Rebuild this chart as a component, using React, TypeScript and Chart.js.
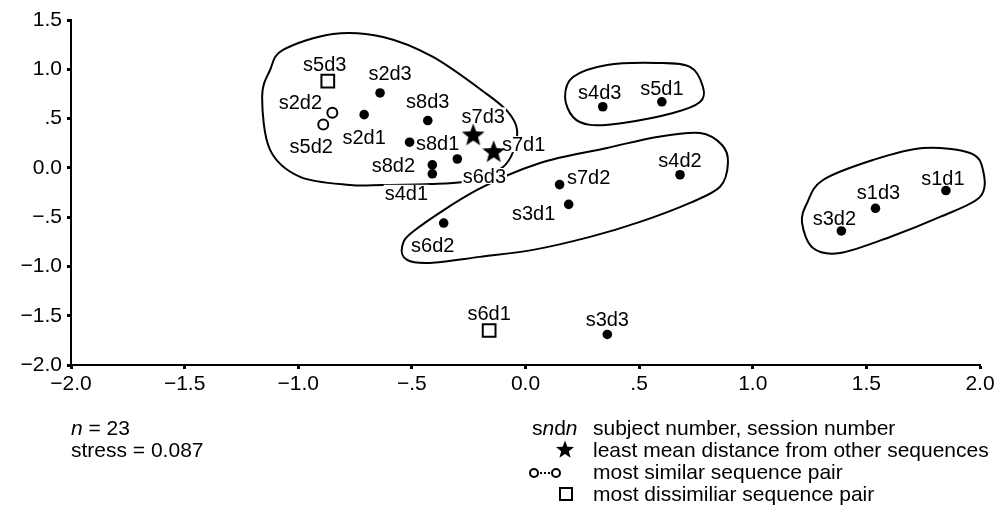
import React, { useEffect, useRef } from 'react';
import { Chart, registerables } from 'chart.js';

Chart.register(...registerables);

// ---------- data ----------
const pointNames = ['s5d3', 's2d3', 's2d2', 's5d2', 's2d1', 's8d3', 's8d1', 's7d3', 's7d1', 's6d3', 's8d2', 's4d1', 's6d2', 's7d2', 's3d1', 's4d2', 's4d3', 's5d1', 's3d2', 's1d3', 's1d1', 's6d1', 's3d3'];
const xValues = [-0.87, -0.64, -0.85, -0.89, -0.71, -0.43, -0.51, -0.23, -0.14, -0.30, -0.41, -0.41, -0.36, 0.15, 0.19, 0.68, 0.34, 0.60, 1.39, 1.54, 1.85, -0.16, 0.36];
const yValues = [0.88, 0.76, 0.56, 0.44, 0.54, 0.48, 0.26, 0.34, 0.17, 0.09, 0.03, -0.06, -0.56, -0.17, -0.37, -0.07, 0.62, 0.67, -0.64, -0.41, -0.23, -1.65, -1.69];
// dot = ordinary, star = least mean distance, open = most similar pair, square = most dissimilar pair
const markerKinds = ['square', 'dot', 'open', 'open', 'dot', 'dot', 'dot', 'star', 'star', 'dot', 'dot', 'dot', 'dot', 'dot', 'dot', 'dot', 'dot', 'dot', 'dot', 'dot', 'dot', 'square', 'dot'];

const xTickValues = [-2, -1.5, -1, -0.5, 0, 0.5, 1, 1.5, 2];
const xTickLabels = ['\u22122.0', '\u22121.5', '\u22121.0', '\u2212.5', '0.0', '.5', '1.0', '1.5', '2.0'];
const yTickValues = [-2, -1.5, -1, -0.5, 0, 0.5, 1, 1.5];
const yTickLabels = ['\u22122.0', '\u22121.5', '\u22121.0', '\u2212.5', '0.0', '.5', '1.0', '1.5'];

// cluster outlines (data coordinates)
const clusterA = [[-1.067, 1.196], [-0.847, 1.359], [-0.627, 1.328], [-0.407, 1.125], [-0.165, 0.74], [-0.077, 0.567], [-0.037, 0.385], [-0.055, 0.161], [-0.099, 0.009], [-0.178, -0.072], [-0.275, -0.143], [-0.42, -0.164], [-0.627, -0.174], [-0.772, -0.174], [-0.992, -0.092], [-1.124, 0.182], [-1.159, 0.719], [-1.124, 0.993]];
const clusterB = [[0.064, 0.05], [0.359, 0.202], [0.579, 0.314], [0.768, 0.354], [0.865, 0.232], [0.891, 0.05], [0.856, -0.192], [0.724, -0.355], [0.504, -0.548], [0.284, -0.7], [0.033, -0.832], [-0.2, -0.903], [-0.42, -0.964], [-0.521, -0.934], [-0.543, -0.802], [-0.486, -0.63], [-0.213, -0.224]];
const clusterC = [[0.209, 0.922], [0.359, 1.044], [0.579, 1.064], [0.724, 1.024], [0.781, 0.821], [0.768, 0.669], [0.649, 0.557], [0.429, 0.456], [0.284, 0.436], [0.209, 0.516], [0.174, 0.719]];
const clusterD = [[1.309, -0.123], [1.529, 0.08], [1.749, 0.202], [1.956, 0.151], [2.013, -0.022], [2.0, -0.295], [1.824, -0.498], [1.604, -0.701], [1.384, -0.864], [1.265, -0.813], [1.217, -0.559], [1.239, -0.356]];
const clusters = [clusterA, clusterB, clusterC, clusterD];

const noteLines = ['n = 23', 'stress = 0.087'];
const keyLines = ['subject number, session number', 'least mean distance from other sequences', 'most similar sequence pair', 'most dissimiliar sequence pair'];

// ---------- styling (label placement relative to marker, px) ----------
const labelDx = [-3, 10, -32, -12, 0, 0, 28, 10, 30, 27, -39, -26, -11, 29, -35, 0, -3, 0, -7, 3, -3, 0, 0];
const labelDy = [-17, -20, -11, 21, 22, -20, 1, -19, -7, 17, 0, 19, 22, -8, 8, -15, -15, -14, -13, -16, -13, -18, -16];

const FONT = '"Liberation Sans", Arial, Helvetica, sans-serif';

function drawStar(ctx: CanvasRenderingContext2D, cx: number, cy: number, R: number) {
  const r = R * 0.42;
  ctx.beginPath();
  for (let i = 0; i < 10; i++) {
    const ang = -Math.PI / 2 + (i * Math.PI) / 5;
    const rad = i % 2 === 0 ? R : r;
    const x = cx + rad * Math.cos(ang);
    const y = cy + rad * Math.sin(ang);
    if (i === 0) ctx.moveTo(x, y);
    else ctx.lineTo(x, y);
  }
  ctx.closePath();
  ctx.fillStyle = '#000';
  ctx.fill();
}

function makeStarImage(R: number) {
  const c = document.createElement('canvas');
  const s = Math.ceil(R * 2 + 2);
  c.width = s;
  c.height = s;
  const ctx = c.getContext('2d')!;
  drawStar(ctx, s / 2, s / 2 + R * 0.1, R);
  return c;
}

const overlayPlugin = {
  id: 'overlay',
  beforeDatasetsDraw(chart: any) {
    const ctx = chart.ctx as CanvasRenderingContext2D;
    const xs = chart.scales.x;
    const ys = chart.scales.y;
    ctx.save();
    // cluster outlines: closed Catmull-Rom curves
    ctx.strokeStyle = '#000';
    ctx.lineWidth = 2;
    clusters.forEach((pts) => {
      const p = pts.map(([vx, vy]) => [xs.getPixelForValue(vx), ys.getPixelForValue(vy)]);
      const n = p.length;
      ctx.beginPath();
      ctx.moveTo(p[0][0], p[0][1]);
      for (let i = 0; i < n; i++) {
        const p0 = p[(i - 1 + n) % n];
        const p1 = p[i];
        const p2 = p[(i + 1) % n];
        const p3 = p[(i + 2) % n];
        const c1x = p1[0] + (p2[0] - p0[0]) / 6;
        const c1y = p1[1] + (p2[1] - p0[1]) / 6;
        const c2x = p2[0] - (p3[0] - p1[0]) / 6;
        const c2y = p2[1] - (p3[1] - p1[1]) / 6;
        ctx.bezierCurveTo(c1x, c1y, c2x, c2y, p2[0], p2[1]);
      }
      ctx.closePath();
      ctx.stroke();
    });
    // point labels with white knock-out
    const fs = 20;
    ctx.font = `${fs}px ${FONT}`;
    ctx.textAlign = 'center';
    ctx.textBaseline = 'alphabetic';
    pointNames.forEach((name, i) => {
      const px = xs.getPixelForValue(xValues[i]) + labelDx[i];
      const py = ys.getPixelForValue(yValues[i]) + labelDy[i];
      const w = ctx.measureText(name).width;
      const base = py + fs * 0.36;
      ctx.fillStyle = '#fff';
      ctx.fillRect(px - w / 2 - 1, base - fs * 0.76, w + 2, fs * 0.8);
      ctx.fillStyle = '#000';
      ctx.fillText(name, px, base);
    });
    ctx.restore();
  },
  afterDraw(chart: any) {
    const ctx = chart.ctx as CanvasRenderingContext2D;
    ctx.save();
    const fs = 21;
    const reg = `${fs}px ${FONT}`;
    const ital = `italic ${fs}px ${FONT}`;
    ctx.fillStyle = '#000';
    ctx.textBaseline = 'alphabetic';
    ctx.textAlign = 'left';
    const drawRuns = (runs: [string, boolean][], x: number, y: number) => {
      let cx = x;
      runs.forEach(([t, it]) => {
        ctx.font = it ? ital : reg;
        ctx.fillText(t, cx, y);
        cx += ctx.measureText(t).width;
      });
    };
    // left notes
    const leftX = 71;
    const rows = [435, 457, 479, 501];
    drawRuns([['n', true], [noteLines[0].slice(1), false]], leftX, rows[0]);
    drawRuns([[noteLines[1], false]], leftX, rows[1]);
    // right key
    const textX = 593;
    drawRuns([['s', false], ['n', true], ['d', false], ['n', true]], 532, rows[0]);
    keyLines.forEach((t, i) => drawRuns([[t, false]], textX, rows[i]));
    // star symbol
    drawStar(ctx, 565, rows[1] - 7, 9.5);
    // o...o symbol
    const cy = rows[2] - 6;
    ctx.strokeStyle = '#000';
    ctx.lineWidth = 2;
    [534, 556].forEach((cx) => {
      ctx.beginPath();
      ctx.arc(cx, cy, 4, 0, Math.PI * 2);
      ctx.stroke();
    });
    ctx.fillStyle = '#000';
    [541, 545, 549].forEach((dx) => {
      ctx.fillRect(dx - 1, cy - 1, 2, 2);
    });
    // square symbol
    ctx.lineWidth = 2;
    ctx.strokeRect(560, rows[3] - 13, 12, 12);
    ctx.restore();
  },
};

export default function App() {
  const ref = useRef<HTMLCanvasElement | null>(null);
  useEffect(() => {
    if (!ref.current) return;
    const star = makeStarImage(12);
    const pick = (kind: string) =>
      pointNames
        .map((_, i) => i)
        .filter((i) => markerKinds[i] === kind)
        .map((i) => ({ x: xValues[i], y: yValues[i] }));
    const chart = new Chart(ref.current, {
      type: 'scatter',
      data: {
        datasets: [
          { label: 'sequence', data: pick('dot'), pointStyle: 'circle', pointRadius: 4.8, backgroundColor: '#000', borderColor: '#000', borderWidth: 0 },
          { label: 'least mean distance', data: pick('star'), pointStyle: star as any, pointRadius: 12, backgroundColor: '#000', borderColor: '#000' },
          { label: 'most similar pair', data: pick('open'), pointStyle: 'circle', pointRadius: 5, backgroundColor: '#fff', borderColor: '#000', borderWidth: 2 },
          { label: 'most dissimilar pair', data: pick('square'), pointStyle: 'rect', pointRadius: 9, backgroundColor: '#fff', borderColor: '#000', borderWidth: 2 },
        ],
      },
      options: {
        responsive: false,
        animation: false,
        events: [],
        layout: { padding: { top: 20, right: 21, bottom: 0, left: 0 } },
        plugins: { legend: { display: false }, tooltip: { enabled: false }, title: { display: false } },
        scales: {
          x: {
            type: 'linear',
            min: -2,
            max: 2,
            afterBuildTicks: (s: any) => { s.ticks = xTickValues.map((v) => ({ value: v })); },
            afterFit: (s: any) => { s.height = 148; },
            ticks: {
              color: '#000',
              font: { family: FONT, size: 21 },
              padding: 3,
              maxRotation: 0,
              autoSkip: false,
              callback: (v: any) => { const i = xTickValues.indexOf(Number(v)); return i >= 0 ? xTickLabels[i] : ''; },
            },
            grid: { display: true, drawOnChartArea: false, drawTicks: true, tickLength: 4, tickWidth: 3, tickColor: '#000', color: '#000' },
            border: { display: true, color: '#000', width: 2 },
          },
          y: {
            type: 'linear',
            min: -2,
            max: 1.5,
            afterBuildTicks: (s: any) => { s.ticks = yTickValues.map((v) => ({ value: v })); },
            afterFit: (s: any) => { s.width = 71; },
            ticks: {
              color: '#000',
              font: { family: FONT, size: 21 },
              padding: 5,
              autoSkip: false,
              callback: (v: any) => { const i = yTickValues.indexOf(Number(v)); return i >= 0 ? yTickLabels[i] : ''; },
            },
            grid: { display: true, drawOnChartArea: false, drawTicks: true, tickLength: 4, tickWidth: 3, tickColor: '#000', color: '#000' },
            border: { display: true, color: '#000', width: 2 },
          },
        },
      },
      plugins: [overlayPlugin],
    });
    return () => chart.destroy();
  }, []);
  return (
    <div style={{ position: 'fixed', left: 0, top: 0, width: 1001, height: 513, background: '#fff' }}>
      <canvas ref={ref} width={1001} height={513} style={{ display: 'block', width: 1001, height: 513 }} />
    </div>
  );
}
